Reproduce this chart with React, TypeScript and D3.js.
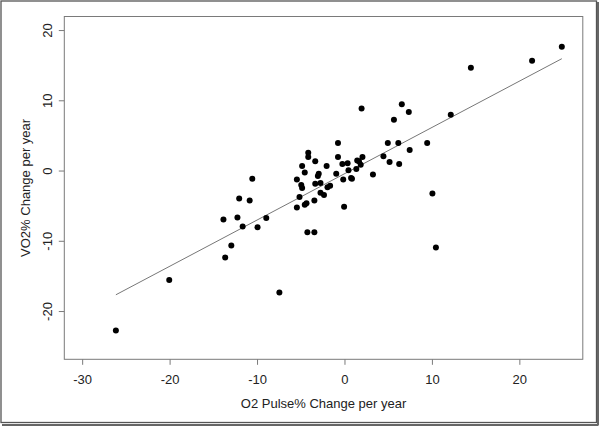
import * as d3 from 'd3';

// O2 pulse % change per year (x) vs VO2 % change per year (y)
const pulseChange = [
  -26.2, -20.1, -13.9, -13.7, -13.0, -12.3, -12.1, -11.7, -10.9, -10.6,
  -10.0, -9.0, -7.5, -5.5, -5.5, -5.2, -5.0, -4.9, -4.9, -4.6,
  -4.6, -4.4, -4.3, -4.2, -4.2, -3.5, -3.5, -3.4, -3.4, -3.1,
  -3.0, -2.8, -2.8, -2.4, -2.1, -2.0, -1.7, -1.0, -0.8, -0.8,
  -0.3, -0.2, -0.1, 0.3, 0.4, 0.7, 0.8, 1.3, 1.4, 1.6,
  1.8, 2.0, 1.9, 3.2, 4.4, 4.9, 5.1, 5.6, 6.1, 6.2,
  6.5, 7.3, 7.4, 9.4, 10.0, 10.4, 12.1, 14.4, 21.4, 24.8,
];
const vo2Change = [
  -22.7, -15.5, -6.9, -12.3, -10.6, -6.6, -3.9, -7.9, -4.2, -1.1,
  -8.0, -6.7, -17.3, -1.2, -5.2, -3.7, -2.0, -2.4, 0.7, -0.2,
  -4.8, -4.6, -8.7, 2.6, 2.0, -8.7, -4.2, 1.4, -1.8, -0.7,
  -0.4, -1.7, -3.1, -3.4, 0.7, -2.3, -2.1, -0.4, 4.0, 2.0,
  1.0, -1.2, -5.1, 1.1, 0.1, -1.0, -1.1, 0.3, 1.5, 1.4,
  0.9, 2.0, 8.9, -0.5, 2.1, 4.0, 1.3, 7.3, 4.0, 1.0,
  9.5, 8.4, 3.0, 4.0, -3.2, -10.9, 8.0, 14.7, 15.7, 17.7,
];

const xTicks = [-30, -20, -10, 0, 10, 20];
const yTicks = [-20, -10, 0, 10, 20];

// fitted line
const fitIntercept = -0.35;
const fitSlope = 0.659;

const W = 600;
const H = 427;
const box = { left: 64.3, right: 582.8, top: 16.5, bottom: 359.3 };

export default function App() {
  const x = d3.scaleLinear().domain([-32.1, 27.2]).range([box.left, box.right]);
  const y = d3.scaleLinear().domain([-26.8, 22.0]).range([box.bottom, box.top]);

  const points = pulseChange.map((v, i) => ({ x: v, y: vo2Change[i] }));
  const [xMin, xMax] = d3.extent(pulseChange) as [number, number];
  const fitLine = d3.line<number>()
    .x(d => x(d))
    .y(d => y(fitIntercept + fitSlope * d));

  const font = '"Liberation Sans", Arial, sans-serif';

  return (
    <svg width={W} height={H} style={{ position: 'absolute', left: 0, top: 0 }}
      fontFamily={font}>
      <rect x={0} y={0} width={W} height={H} fill="#fff" />
      {/* outer frame */}
      <rect x={1} y={1} width={595.5} height={421.5} fill="none" stroke="#555" strokeWidth={1.3} />
      <line x1={598} y1={2} x2={598} y2={425.5} stroke="#666" strokeWidth={2} />
      <line x1={2} y1={425} x2={598} y2={425} stroke="#666" strokeWidth={2} />

      {/* plot box */}
      <rect x={box.left} y={box.top} width={box.right - box.left} height={box.bottom - box.top}
        fill="none" stroke="#7a7a7a" strokeWidth={1} />

      {/* x axis */}
      <g>
        {xTicks.map(t => (
          <g key={t} transform={`translate(${x(t)},${box.bottom})`}>
            <line y2={5.5} stroke="#7a7a7a" />
            <text y={25} textAnchor="middle" fontSize={13} fill="#222">{t}</text>
          </g>
        ))}
        <text x={(box.left + box.right) / 2} y={407.5} textAnchor="middle" fontSize={13} fill="#222">
          O2 Pulse% Change per year
        </text>
      </g>

      {/* y axis */}
      <g>
        {yTicks.map(t => (
          <g key={t} transform={`translate(${box.left},${y(t)})`}>
            <line x2={-5.5} stroke="#7a7a7a" />
            <text transform="translate(-12,0) rotate(-90)" textAnchor="middle" fontSize={13} fill="#222">{t}</text>
          </g>
        ))}
        <text transform={`translate(30,${(box.top + box.bottom) / 2}) rotate(-90)`}
          textAnchor="middle" fontSize={13} fill="#222">
          VO2% Change per year
        </text>
      </g>

      {/* regression line */}
      <path d={fitLine([xMin, xMax]) ?? ''} fill="none" stroke="#777" strokeWidth={1} />

      {/* points */}
      {points.map((p, i) => (
        <circle key={i} cx={x(p.x)} cy={y(p.y)} r={3} fill="#000" />
      ))}
    </svg>
  );
}
